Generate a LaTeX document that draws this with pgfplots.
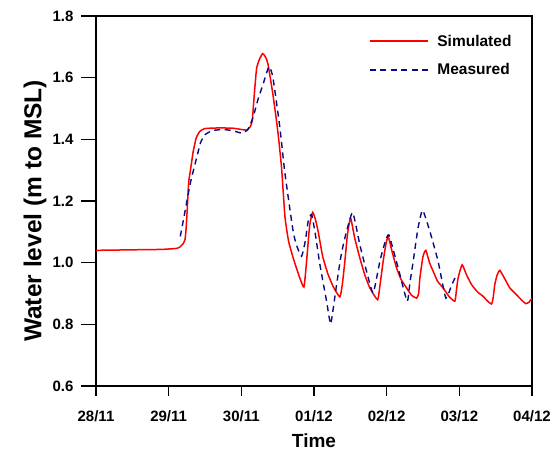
\documentclass[border=0pt]{standalone}
\usepackage{pgfplots}
\pgfplotsset{compat=1.18}
\usepackage{fontspec}
\setmainfont{Liberation Sans}
\definecolor{navyb}{RGB}{10,10,130}
\definecolor{simred}{RGB}{255,0,0}
\begin{document}
\begin{tikzpicture}
\begin{axis}[
  scale only axis, width=436pt, height=370pt,
  xmin=0, xmax=6, ymin=0.6, ymax=1.8,
  xtick={0,1,2,3,4,5,6},
  xticklabels={28/11,29/11,30/11,01/12,02/12,03/12,04/12},
  ytick={0.6,0.8,1.0,1.2,1.4,1.6,1.8},
  yticklabel style={/pgf/number format/fixed,/pgf/number format/fixed zerofill,/pgf/number format/precision=1, xshift=-14.7pt},
  xticklabel style={yshift=-16.7pt},
  /pgf/number format/assume math mode=true,
  tick label style={font=\bfseries\fontsize{15}{17}\selectfont},
  tick align=outside, tick pos=left,
  xtick style={/pgfplots/major tick length=10pt, line width=1.6pt, black},
  ytick style={/pgfplots/major tick length=15pt, line width=1.6pt, black},
  axis line style={line width=1.1pt},
  xlabel={Time}, ylabel={Water level (m to MSL)},
  xlabel style={font=\bfseries\fontsize{19}{21}\selectfont, at={(axis description cs:0.5,0)}, anchor=center, yshift=-55pt},
  ylabel style={font=\bfseries\fontsize{24.5}{26}\selectfont, at={(axis description cs:-0.14,0.473)}, anchor=center},
  legend style={draw=none, fill=none, at={(0.958,0.955)}, anchor=north east, font=\bfseries\fontsize{15.5}{17}\selectfont, row sep=12pt, inner sep=0pt},
  legend cell align=left,
  legend image code/.code={\draw[#1] (0pt,0pt) -- (58pt,0pt);},
]
\addplot[simred, line width=1.5pt, smooth, tension=0.3] coordinates {
(0,1.040) (0.3,1.041) (0.6,1.042) (0.9,1.043) (1.1,1.046) (1.15,1.050) (1.2,1.062) (1.225,1.075) (1.24,1.11) (1.255,1.17) (1.275,1.26) (1.30,1.30) (1.338,1.361) (1.38,1.405) (1.43,1.426) (1.50,1.435) (1.7,1.437) (1.885,1.436) (2.0,1.432) (2.073,1.430) (2.12,1.440) (2.15,1.46) (2.18,1.55) (2.21,1.63) (2.25,1.66) (2.293,1.678) (2.33,1.668) (2.366,1.645) (2.435,1.545) (2.50,1.43) (2.554,1.307) (2.60,1.15) (2.65,1.07) (2.714,1.015) (2.79,0.96) (2.861,0.921) (2.898,1.005) (2.94,1.12) (2.981,1.163) (3.02,1.14) (3.058,1.10) (3.12,1.02) (3.195,0.961) (3.27,0.92) (3.356,0.889) (3.39,0.93) (3.425,1.005) (3.46,1.09) (3.503,1.145) (3.56,1.08) (3.631,1.015) (3.7,0.96) (3.769,0.918) (3.875,0.88) (3.91,0.93) (3.952,1.005) (3.99,1.06) (4.021,1.085) (4.07,1.04) (4.136,0.983) (4.2,0.945) (4.274,0.918) (4.34,0.895) (4.411,0.885) (4.44,0.90) (4.457,0.95) (4.50,1.02) (4.539,1.040) (4.59,1.00) (4.64,0.972) (4.7,0.94) (4.777,0.918) (4.86,0.89) (4.938,0.875) (4.96,0.91) (4.983,0.95) (5.038,0.993) (5.1,0.96) (5.168,0.929) (5.25,0.905) (5.327,0.891) (5.39,0.875) (5.443,0.866) (5.465,0.885) (5.488,0.929) (5.52,0.96) (5.557,0.975) (5.62,0.95) (5.695,0.918) (5.787,0.896) (5.86,0.878) (5.915,0.867) (5.96,0.872) (6.0,0.885)
};
\addlegendentry{\hspace{7pt}Simulated}
\addplot[navyb, line width=1.4pt, dash pattern=on 6pt off 4.5pt, smooth, tension=0.3] coordinates {
(1.16,1.085) (1.224,1.165) (1.30,1.26) (1.385,1.34) (1.44,1.39) (1.50,1.415) (1.6,1.428) (1.747,1.432) (1.88,1.428) (2.004,1.420) (2.05,1.425) (2.091,1.432) (2.16,1.47) (2.23,1.53) (2.297,1.577) (2.38,1.636) (2.435,1.60) (2.531,1.437) (2.60,1.29) (2.714,1.10) (2.77,1.05) (2.83,1.021) (2.88,1.07) (2.92,1.134) (2.967,1.156) (3.02,1.09) (3.081,0.994) (3.173,0.875) (3.228,0.801) (3.27,0.86) (3.311,0.929) (3.37,1.02) (3.425,1.08) (3.531,1.163) (3.631,1.058) (3.72,0.975) (3.814,0.902) (3.906,1.004) (3.97,1.06) (4.03,1.09) (4.158,0.983) (4.282,0.875) (4.32,0.935) (4.365,1.004) (4.43,1.11) (4.494,1.170) (4.594,1.102) (4.708,1.004) (4.814,0.885) (4.89,0.925) (4.961,0.961)
};
\addlegendentry{\hspace{7pt}Measured}
\end{axis}
\path (-96pt,-66pt) rectangle (461pt,386pt);
\end{tikzpicture}
\end{document}
